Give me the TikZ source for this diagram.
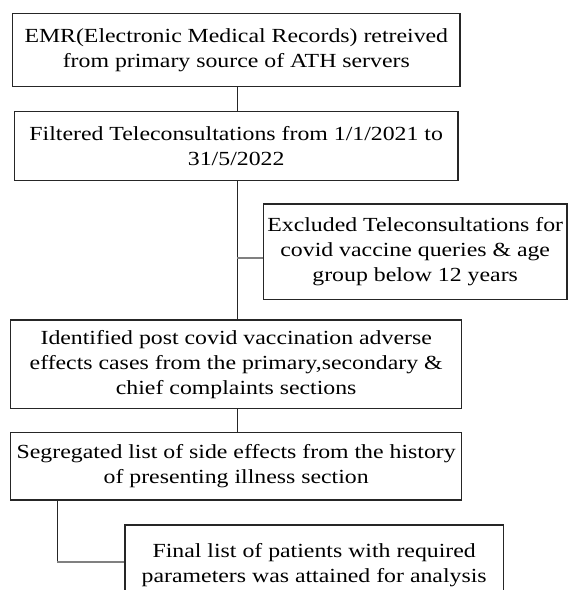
\documentclass[tikz,border=0pt]{standalone}
\usepackage{fontspec}
\setmainfont{Liberation Serif}[FakeStretch=1.19]
\begin{document}
\begin{tikzpicture}[x=1pt,y=-1pt,
  box/.style={draw=black!85,line width=1.3pt,align=center,inner sep=0pt,
    font=\fontsize{20}{25}\selectfont},
  link/.style={draw=black!85,line width=1.2pt},
  branch/.style={draw=black!50,line width=2pt}]
\useasboundingbox (0,0) rectangle (568,590);
\clip (0,0) rectangle (568,590);
\node[box,minimum width=447.3pt,minimum height=73.4pt] (b1) at (236.3,50)
  {EMR(Electronic Medical Records) retreived\\from primary source of ATH servers};
\node[box,minimum width=443.7pt,minimum height=69pt] (b2) at (236.2,146.2)
  {Filtered Teleconsultations from 1/1/2021 to\\31/5/2022};
\node[box,minimum width=303.7pt,minimum height=95.5pt] (b3) at (415.2,251.8)
  {Excluded Teleconsultations for\\covid vaccine queries \& age\\group below 12 years};
\node[box,minimum width=451pt,minimum height=88.3pt] (b4) at (236.2,364.2)
  {Identified post covid vaccination adverse\\effects cases from the primary,secondary \&\\chief complaints sections};
\node[box,minimum width=451pt,minimum height=67.3pt] (b5) at (236.2,466.3)
  {Segregated list of side effects from the history\\of presenting illness section};
\node[box,minimum width=378.3pt,minimum height=80pt] (b6) at (314.2,565)
  {Final list of patients with required\\parameters was attained for analysis};
\coordinate (j) at (237.3,257.7);
\coordinate (k) at (57.3,561.7);
\draw[link] (b1.south -| j) -- (b2.north -| j);
\draw[link] (b2.south -| j) -- (b4.north -| j);
\draw[branch] (j) -- (j -| b3.west);
\draw[link] (b4.south -| j) -- (b5.north -| j);
\draw[link] (b5.south -| k) -- (k);
\draw[branch] (k) -- (k -| b6.west);
\end{tikzpicture}
\end{document}
